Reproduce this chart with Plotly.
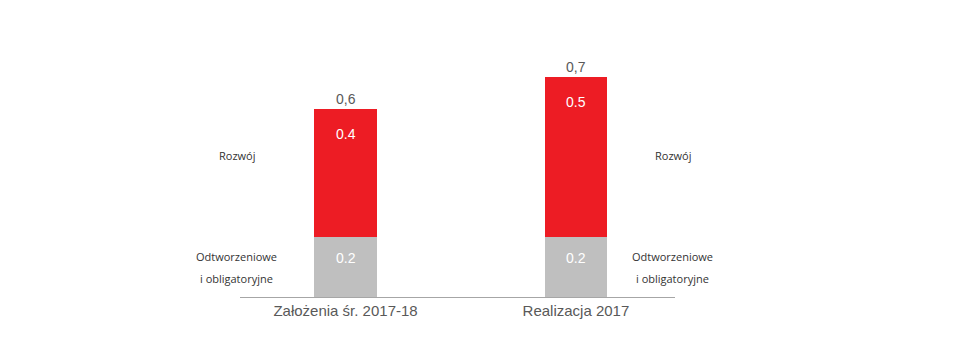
import plotly.graph_objects as go

categories = ["Założenia śr. 2017-18", "Realizacja 2017"]
base_values = [0.19, 0.19]
growth_values = [0.41, 0.51]
base_labels = ["0.2", "0.2"]
growth_labels = ["0.4", "0.5"]
total_labels = ["0,6", "0,7"]
series_names = ["Odtworzeniowe i obligatoryjne", "Rozwój"]

RED = "#ED1C24"
GREY = "#BFBFBF"

fig = go.Figure()
fig.add_trace(go.Bar(x=categories, y=base_values, name=series_names[0],
                     marker=dict(color=GREY, line=dict(width=0)), width=0.27))
fig.add_trace(go.Bar(x=categories, y=growth_values, name=series_names[1],
                     marker=dict(color=RED, line=dict(width=0)), width=0.27))

ann = []
for i, c in enumerate(categories):
    b = base_values[i]
    t = b + growth_values[i]
    ann.append(dict(x=c, y=b, text=base_labels[i], showarrow=False, yanchor="middle",
                    yshift=-21, font=dict(color="white", size=14, family="Liberation Sans, Arial")))
    ann.append(dict(x=c, y=t, text=growth_labels[i], showarrow=False, yanchor="middle",
                    yshift=-25, font=dict(color="white", size=14, family="Liberation Sans, Arial")))
    ann.append(dict(x=c, y=t, text=total_labels[i], showarrow=False, yanchor="middle",
                    yshift=10, font=dict(color="#595959", size=14, family="Liberation Sans, Arial")))

side_font = dict(color="#333333", size=11, family="Open Sans, Lato, sans-serif")
for xp in [-0.007, 0.995]:
    ann.append(dict(xref="paper", x=xp, y=0.452, text="Rozwój", showarrow=False,
                    xanchor="center", yanchor="middle", font=side_font))
    ann.append(dict(xref="paper", x=xp, y=0.13, text="Odtworzeniowe", showarrow=False,
                    xanchor="center", yanchor="middle", font=side_font))
    ann.append(dict(xref="paper", x=xp, y=0.06, text="i obligatoryjne", showarrow=False,
                    xanchor="center", yanchor="middle", font=side_font))

fig.update_layout(
    barmode="stack",
    width=965, height=353,
    margin=dict(l=240, r=290, t=46, b=56),
    paper_bgcolor="white", plot_bgcolor="white",
    showlegend=False,
    annotations=ann,
    xaxis=dict(type="category", range=[-0.458, 1.43], showline=True, linecolor="#A6A6A6",
               linewidth=1, ticks="", showgrid=False, zeroline=False,
               tickfont=dict(color="#595959", size=15, family="Liberation Sans, Arial")),
    yaxis=dict(range=[0, 0.8], visible=False, showgrid=False, zeroline=False),
)

fig.write_html("out.html")
